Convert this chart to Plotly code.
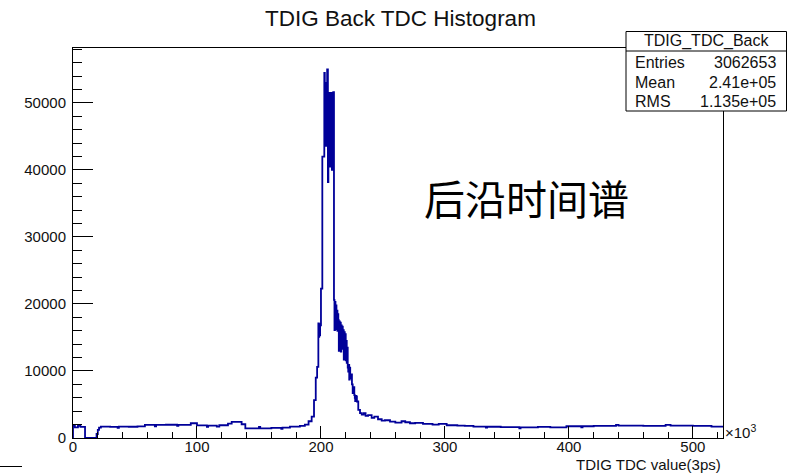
import plotly.graph_objects as go

# TDC histogram, x in units of 10^3 (3 ps) counts; each entry is [left edge, count]
bin_left_edges = [
    0, 1.5, 4, 6, 9.7, 19.0, 20.0, 21.0, 22.5,
    30, 36, 37, 45, 52, 58, 66, 67, 75, 84, 85, 95,
    100, 108, 109, 116, 118, 125, 128, 136, 139,
    150, 151, 160, 168, 169, 175, 183, 187, 190, 192.5,
    194.4, 195.8, 196.9, 197.9, 198.3, 198.6, 199.0, 199.3, 200.0, 201.1,
    202.7, 203.1, 203.5, 203.9, 204.3, 204.7, 205.0, 205.6, 206.0, 206.4,
    206.8, 207.2, 207.6, 208.0, 208.4, 208.8, 209.2, 209.6, 209.9,
    210.5, 210.9, 211.3, 211.7, 212.1, 212.5, 212.9, 213.3, 213.7,
    214.0, 214.4, 214.8, 215.2, 215.6, 216.0, 216.4, 216.8, 217.2, 217.6,
    218.0, 218.4, 218.8, 219.2, 219.6, 220.0, 220.4, 220.8, 221.2,
    221.6, 222.0, 222.4, 222.8, 223.2, 223.6, 224.3, 225.0,
    225.6, 226.2, 226.9, 227.3, 227.6, 228.0, 228.3, 228.7, 229.0, 230.1, 231.5, 232.9,
    234.5, 236.0, 238.0, 240.9, 243.0, 246.0, 249.0, 251.6,
    255.7, 260.0, 265.0, 268.0, 271.8, 276.0, 282.3, 290.0,
    295.0, 301.4, 310.0, 316.0, 323.0, 333.0, 334.0, 345.0,
    360.0, 361.0, 375.0, 385.0, 398.0, 410.0, 411.0, 420.0,
    438.0, 440.0, 460.0, 478.0, 482.0, 500.0, 515.0,
]
bin_counts = [
    1850, 1600, 1800, 1650, 0, 600, 1200, 1550, 1700,
    1650, 1500, 1700, 1680, 1720, 1950, 1750, 1950, 1980, 1800, 1950, 2200,
    1880, 1650, 1850, 1700, 1900, 2150, 2400, 2050, 1450,
    1650, 1430, 1500, 1350, 1550, 1700, 1800, 2000, 2500, 3200,
    5650, 9000, 10600, 17100, 15100, 17000, 15300, 16800, 22300, 42000,
    54500, 45000, 53000, 43600, 52000, 44000, 55000, 38200, 51500, 41000,
    51000, 40500, 51500, 41000, 51000, 40000, 51500, 40000, 51600,
    20600, 16100, 20300, 16500, 19800, 16200, 19000, 16000, 18500,
    17600, 13000, 17400, 13200, 17200, 12900, 16800, 13300, 16600, 13500,
    16100, 11700, 15800, 11900, 15500, 11600, 14500, 11200, 13500,
    10500, 9900, 10900, 8700, 10500, 8900, 9500, 8000,
    6700, 7600, 6400, 6000, 5500, 6300, 5600, 6200, 5450, 4200, 3700, 3500,
    3700, 3300, 3400, 3000, 3200, 2800, 2600, 2650,
    2450, 2300, 2500, 2350, 2200, 2250, 2100, 2000,
    2100, 1900, 1850, 1800, 1700, 1550, 1680, 1620,
    1450, 1600, 1650, 1600, 1750, 1600, 1750, 1800,
    1950, 1850, 1800, 1950, 1850, 1800, 1700,
]
x_max = 524.288
y_max = 58200
x_tick_values = [0, 100, 200, 300, 400, 500]
y_tick_values = [0, 10000, 20000, 30000, 40000, 50000]

hist_name = "TDIG_TDC_Back"
stat_labels = ["Entries", "Mean", "RMS"]
stat_values = ["3062653", "2.41e+05", "1.135e+05"]

# page geometry (pixels)
W, H = 802, 474
L, R, T, B = 73, 723, 48, 438


def px(x):
    return (x - L) / (R - L)


def py(y):
    return (B - y) / (B - T)


font_main = "Liberation Sans, Arial, Helvetica, sans-serif"
ink = "#111111"

xs = [0] + bin_left_edges + [x_max]
ys = [0] + bin_counts + [bin_counts[-1]]

fig = go.Figure()
fig.add_trace(go.Scatter(
    x=xs, y=ys, mode="lines",
    line=dict(shape="hv", color="#000099", width=1.8),
    hoverinfo="skip", showlegend=False,
))

axis_common = dict(
    showgrid=False, zeroline=False,
    showline=True, linecolor="black", linewidth=1, mirror=True,
    ticks="inside", tickcolor="black", tickwidth=1,
    tickfont=dict(family=font_main, size=15, color=ink),
    tickformat="d",
)

fig.update_xaxes(
    range=[0, x_max], tickvals=x_tick_values, ticklen=12,
    minor=dict(dtick=20, ticks="inside", ticklen=6, tickcolor="black", tickwidth=1),
    ticklabelstandoff=-5,
    **axis_common,
)
fig.update_yaxes(
    range=[0, y_max], tickvals=y_tick_values, ticklen=20,
    minor=dict(dtick=2000, ticks="inside", ticklen=9, tickcolor="black", tickwidth=1),
    ticklabelstandoff=3,
    **axis_common,
)

annotations = [
    dict(text="TDIG Back TDC Histogram", x=px(400), y=py(18),
         font=dict(family=font_main, size=22.5, color=ink)),
    dict(text="后沿时间谱", x=px(526.5), y=py(197),
         font=dict(family="Noto Sans CJK SC", size=41, color="black")),
    dict(text="TDIG TDC value(3ps)", x=px(723), y=py(464.5), xanchor="right",
         font=dict(family=font_main, size=15, color=ink)),
    dict(text="×10<sup>3</sup>", x=px(723), y=py(431), xanchor="left",
         font=dict(family=font_main, size=15, color=ink)),
    dict(text=hist_name, x=px(706), y=py(41),
         font=dict(family=font_main, size=16, color=ink)),
]
row_y = [62.5, 82, 101.5]
for lab, val, yy in zip(stat_labels, stat_values, row_y):
    annotations.append(dict(text=lab, x=px(633), y=py(yy), xanchor="left",
                            font=dict(family=font_main, size=16, color=ink)))
    annotations.append(dict(text=val, x=px(778), y=py(yy), xanchor="right",
                            font=dict(family=font_main, size=16, color=ink)))
for a in annotations:
    a.update(xref="paper", yref="paper", showarrow=False)
    a.setdefault("xanchor", "center")
    a.setdefault("yanchor", "middle")

shapes = [
    dict(type="rect", x0=px(626), x1=px(786.5), y0=py(111), y1=py(31.5),
         line=dict(color="black", width=1), fillcolor="white", layer="above"),
    dict(type="line", x0=px(626), x1=px(786.5), y0=py(51), y1=py(51),
         line=dict(color="black", width=1), layer="above"),
    dict(type="line", x0=px(0), x1=px(22), y0=py(466.5), y1=py(466.5),
         line=dict(color="black", width=1), layer="above"),
]
for s in shapes:
    s.update(xref="paper", yref="paper")

fig.update_layout(
    width=W, height=H,
    margin=dict(l=L, r=W - R, t=T, b=H - B, pad=0),
    paper_bgcolor="white", plot_bgcolor="white",
    annotations=annotations, shapes=shapes,
    showlegend=False,
)

fig.write_html("out.html")
